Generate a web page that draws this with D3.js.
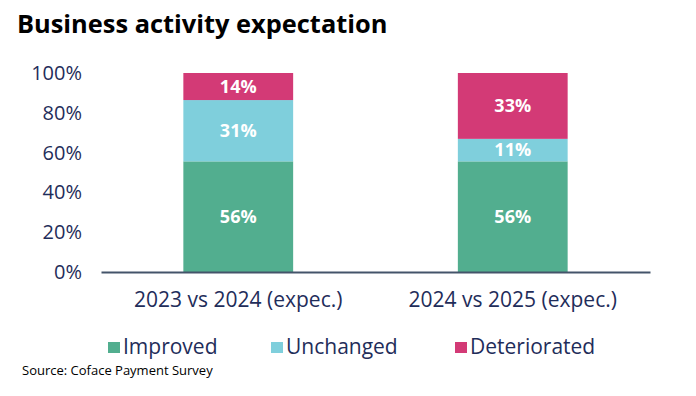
<!DOCTYPE html>
<html>
<head>
<meta charset="utf-8">
<script src="https://cdn.jsdelivr.net/npm/d3@7"></script>
<style>
  body { margin: 0; background: #fff; }
  svg { display: block; font-family: "Open Sans", sans-serif; }
</style>
</head>
<body>
<svg id="chart" width="696" height="396"></svg>
<script>
const categories = ["2023 vs 2024 (expec.)", "2024 vs 2025 (expec.)"];
const seriesNames = ["Improved", "Unchanged", "Deteriorated"];
const improved = [55.6, 55.6];
const unchanged = [30.8, 11.3];
const deteriorated = [13.6, 33.1];
const yTicks = [0, 20, 40, 60, 80, 100];

const COLORS = ["#52ae8f", "#7fcfdc", "#d33a76"];
const TEXT = "#1f2d5a";

const svg = d3.select("#chart");
const x = d3.scaleBand().domain(categories).range([101, 650]).paddingInner(0.6).paddingOuter(0.3);
const y = d3.scaleLinear().domain([0, 100]).range([272, 73]);

const rows = categories.map((c, i) => ({
  cat: c, Improved: improved[i], Unchanged: unchanged[i], Deteriorated: deteriorated[i]
}));
const stacked = d3.stack().keys(seriesNames)(rows);
const color = d3.scaleOrdinal(seriesNames, COLORS);

svg.append("text")
  .attr("x", 17).attr("y", 33)
  .attr("font-size", 25.4).attr("font-weight", 700).attr("fill", "#000")
  .text("Business activity expectation");

// y axis labels only
const yAxis = svg.append("g")
  .attr("transform", "translate(82,0)")
  .call(d3.axisLeft(y).tickValues(yTicks).tickFormat(d => d + "%").tickSize(0).tickPadding(0));
yAxis.select(".domain").remove();
yAxis.selectAll("text").attr("font-size", 20).attr("fill", TEXT).attr("font-family", "Open Sans, sans-serif");

const layer = svg.append("g").selectAll("g")
  .data(stacked)
  .join("g")
  .attr("fill", d => color(d.key));

layer.selectAll("rect")
  .data(d => d)
  .join("rect")
  .attr("x", d => x(d.data.cat))
  .attr("width", x.bandwidth())
  .attr("y", d => y(d[1]))
  .attr("height", d => y(d[0]) - y(d[1]));

layer.selectAll("text")
  .data(d => d)
  .join("text")
  .attr("x", d => x(d.data.cat) + x.bandwidth() / 2)
  .attr("y", d => (y(d[0]) + y(d[1])) / 2)
  .attr("dy", "0.35em")
  .attr("text-anchor", "middle")
  .attr("fill", "#fff")
  .attr("font-size", 18)
  .attr("font-weight", 700)
  .text(d => Math.round(d[1] - d[0]) + "%");

// x axis
const xAxis = svg.append("g")
  .attr("transform", "translate(0,272)")
  .call(d3.axisBottom(x).tickSize(0).tickPadding(20));
xAxis.select(".domain").attr("stroke", "#44546a").attr("stroke-width", 2);
xAxis.selectAll("text").attr("font-size", 21).attr("fill", TEXT).attr("font-family", "Open Sans, sans-serif");

// legend
const legendX = [108, 271, 455];
const legend = svg.append("g").selectAll("g")
  .data(seriesNames)
  .join("g")
  .attr("transform", (d, i) => `translate(${legendX[i]},347)`);
legend.append("rect")
  .attr("x", 0).attr("y", -5).attr("width", 12).attr("height", 11)
  .attr("fill", d => color(d));
legend.append("text")
  .attr("x", 15).attr("dy", "0.35em")
  .attr("font-size", 21).attr("fill", TEXT)
  .text(d => d);

svg.append("text")
  .attr("x", 22).attr("y", 375)
  .attr("font-size", 13).attr("fill", "#000")
  .text("Source: Coface Payment Survey");
</script>
</body>
</html>
